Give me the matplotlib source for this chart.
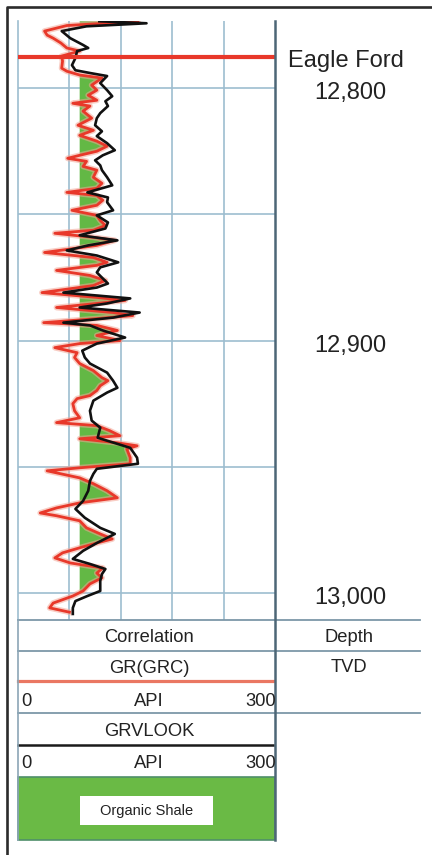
import numpy as np
import matplotlib
matplotlib.use("Agg")
import matplotlib.pyplot as plt
import matplotlib.transforms as mtransforms
from matplotlib.patches import Rectangle

plt.rcParams['font.family'] = ['Liberation Sans', 'DejaVu Sans']

# ---- log data -------------------------------------------------------------
gr_depth = [12773.5, 12775.2, 12777.4, 12779.0, 12780.2, 12782.1, 12784.1, 12785.3,
            12787.3, 12789.3, 12792.1, 12793.3, 12794.8, 12796.0, 12798.8, 12800.8,
            12802.8, 12804.8, 12806.0, 12807.1, 12809.1, 12811.9, 12814.7, 12816.7,
            12818.7, 12821.0, 12823.0, 12825.0, 12826.6, 12827.8, 12829.0, 12831.0,
            12832.5, 12835.3, 12837.7, 12839.7, 12841.3, 12842.5, 12844.4, 12846.4,
            12848.4, 12850.4, 12852.4, 12854.4, 12856.3, 12857.5, 12859.1, 12860.3,
            12862.3, 12865.1, 12867.1, 12869.0, 12870.2, 12872.2, 12874.2, 12876.2,
            12878.2, 12881.0, 12882.9, 12884.1, 12885.3, 12886.9, 12888.9, 12890.1,
            12891.3, 12892.9, 12894.0, 12896.0, 12898.0, 12900.0, 12901.2, 12902.8,
            12904.8, 12906.7, 12909.1, 12911.9, 12914.7, 12915.9, 12917.9, 12919.8,
            12921.8, 12923.0, 12925.0, 12927.8, 12930.6, 12932.5, 12933.7, 12935.7,
            12937.7, 12938.9, 12940.5, 12941.7, 12942.9, 12946.4, 12948.8, 12950.4,
            12951.6, 12954.4, 12956.7, 12959.5, 12962.3, 12964.3, 12966.3, 12968.3,
            12969.4, 12971.4, 12974.2, 12976.6, 12978.6, 12980.2, 12982.1, 12984.1,
            12986.1, 12988.1, 12990.1, 12992.1, 12994.0, 12996.4, 12999.2, 13001.2,
            13004.0, 13005.9, 13007.6]
gr_api = [140, 57, 31, 34, 41, 50, 57, 72,
          51, 52, 51, 57, 72, 98, 86, 92,
          82, 92, 64, 84, 76, 86, 70, 88,
          72, 92, 104, 92, 72, 58, 80, 76,
          92, 88, 98, 92, 57, 92, 99, 92,
          63, 92, 96, 102, 88, 43, 88, 113,
          92, 31, 88, 104, 92, 45, 84, 102,
          88, 28, 92, 125, 92, 45, 111, 134,
          92, 30, 92, 116, 92, 119, 72, 43,
          69, 66, 72, 88, 98, 105, 96, 92,
          84, 69, 64, 66, 72, 45, 92, 107,
          119, 72, 116, 139, 127, 131, 131, 72,
          34, 72, 88, 104, 116, 72, 45, 26,
          45, 72, 80, 96, 110, 92, 72, 52,
          43, 61, 99, 92, 98, 84, 76, 64,
          41, 37, 60]

look_depth = [12773.5, 12774.3, 12775.5, 12777.4, 12780.2, 12782.9, 12784.1, 12785.3,
              12788.1, 12790.9, 12792.9, 12794.0, 12795.2, 12798.0, 12800.8, 12803.2,
              12805.2, 12807.1, 12809.9, 12811.9, 12814.7, 12817.1, 12819.0, 12821.8,
              12824.6, 12826.6, 12828.6, 12830.6, 12832.5, 12835.3, 12838.5, 12841.3,
              12843.3, 12845.2, 12848.4, 12850.4, 12853.2, 12855.6, 12858.3, 12860.3,
              12862.3, 12864.3, 12866.3, 12869.0, 12871.0, 12873.0, 12875.4, 12877.4,
              12879.0, 12881.0, 12883.3, 12885.3, 12886.9, 12888.9, 12890.9, 12892.9,
              12894.0, 12896.0, 12898.8, 12901.2, 12904.0, 12906.7, 12909.1, 12912.7,
              12915.9, 12918.7, 12920.6, 12923.8, 12927.8, 12931.7, 12934.5, 12938.5,
              12942.5, 12946.4, 12948.8, 12950.8, 12952.8, 12955.6, 12959.5, 12963.5,
              12966.7, 12970.2, 12974.2, 12976.6, 12980.2, 12983.3, 12986.5, 12988.5,
              12990.5, 12992.5, 12995.2, 12999.2, 13001.2, 13003.2, 13005.9, 13008.3]
look_api = [95, 150, 80, 51, 61, 76, 82, 69,
            67, 63, 67, 84, 104, 96, 104, 110,
            102, 105, 96, 92, 90, 98, 92, 104,
            113, 99, 90, 96, 98, 104, 110, 81,
            105, 104, 111, 92, 105, 102, 72, 116,
            82, 57, 92, 117, 96, 92, 99, 105,
            92, 53, 131, 104, 72, 142, 111, 53,
            84, 99, 125, 92, 75, 78, 84, 104,
            111, 116, 104, 88, 84, 86, 96, 93,
            131, 139, 140, 92, 88, 84, 82, 76,
            67, 78, 96, 113, 92, 76, 64, 84,
            102, 98, 96, 96, 81, 67, 64, 64]

shale_cutoff = 72            # API
eagle_ford_top = 12787.7     # ft
depth_ticks = [12800, 12850, 12900, 12950, 13000]
depth_labels = {12800: "12,800", 12900: "12,900", 13000: "13,000"}
api_grid = [60, 120, 180, 240]
api_range = (0, 300)
depth_range = (12773.4, 13010.7)

# ---- colours ----------------------------------------------------------------
RED = '#e8382a'
GREEN = '#63b845'
GRID = '#9dbdcf'
BORDER = '#4d6676'
TEXT = '#222222'

W, H = 432, 855
fig = plt.figure(figsize=(W / 100, H / 100), dpi=100)
fig.patch.set_facecolor('white')

def frac(x0, y0, x1, y1):
    return [x0 / W, 1 - y1 / H, (x1 - x0) / W, (y1 - y0) / H]

# ---- log track --------------------------------------------------------------
ax = fig.add_axes(frac(18, 21, 275, 620))
ax.set_xlim(*api_range)
ax.set_ylim(depth_range[1], depth_range[0])
for s in ('top', 'bottom'):
    ax.spines[s].set_visible(False)
ax.spines['left'].set_color(GRID)
ax.spines['left'].set_linewidth(1.2)
ax.spines['right'].set_visible(False)
ax.set_xticks([])
ax.set_yticks([])

for a in api_grid:
    ax.axvline(a, color=GRID, lw=1.2, zorder=1)
for d in depth_ticks:
    ax.axhline(d, color=GRID, lw=1.2, zorder=1)

gd = np.array(gr_depth)
ga = np.array(gr_api)
ax.fill_betweenx(gd, shale_cutoff, ga, where=ga > shale_cutoff,
                 interpolate=True, color=GREEN, lw=0, zorder=2)
ax.plot(ga, gd, color='#f3a595', lw=4.2, alpha=0.55, zorder=3,
        solid_joinstyle='round')
ax.plot(ga, gd, color=RED, lw=2.0, zorder=4, solid_joinstyle='round')
ax.plot(look_api, look_depth, color='#111111', lw=1.9, zorder=5,
        solid_joinstyle='round')
ax.axhline(eagle_ford_top, color=RED, lw=3.0, zorder=6)

# ---- overlay in pixel coordinates -----------------------------------------
ov = fig.add_axes([0, 0, 1, 1])
ov.set_xlim(0, W)
ov.set_ylim(H, 0)
ov.axis('off')
ov.patch.set_alpha(0)

# outer frame
ov.plot([7, 7, W], [H, 7, 7], color='#2b2b2b', lw=1.9, solid_capstyle='butt')

# depth labels
blend = mtransforms.blended_transform_factory(ov.transData, ax.transData)
label_tf = mtransforms.offset_copy(blend, fig=fig, y=-5, units='dots')
for d, lab in depth_labels.items():
    ov.text(350, d, lab, transform=label_tf, ha='center', va='center',
            fontsize=17, color=TEXT)
ov.text(346, 67, "Eagle Ford", ha='center', va='baseline', fontsize=17, color=TEXT)

# header grid
for y in (620, 651, 713):
    ov.plot([18, 420], [y, y], color='#7d97a8', lw=1.3)
ov.plot([18, 273], [681, 681], color='#ea7762', lw=2.3)
ov.plot([18, 273], [745, 745], color='#1a1a1a', lw=1.8)
ov.plot([18, 18], [620, 840], color='#8ca6b6', lw=1.2)

# organic shale legend
ov.add_patch(Rectangle((18, 777), 257, 63, facecolor='#6aba45',
                       edgecolor='#4f8f6a', lw=1.2))
ov.add_patch(Rectangle((80, 796), 133, 29, facecolor='white', edgecolor='none'))
ov.text(146.5, 811, "Organic Shale", ha='center', va='center',
        fontsize=10.5, color=TEXT)

# track right border
ov.plot([275, 275], [21, 840], color=BORDER, lw=1.8)

fs = 13.2
ov.text(149, 642, "Correlation", ha='center', va='baseline', fontsize=fs, color=TEXT)
ov.text(349, 642, "Depth", ha='center', va='baseline', fontsize=fs, color=TEXT)
ov.text(149, 673, "GR(GRC)", ha='center', va='baseline', fontsize=fs, color=TEXT)
ov.text(349, 672, "TVD", ha='center', va='baseline', fontsize=fs, color=TEXT)
for yb in (706, 768):
    ov.text(21, yb, "0", ha='left', va='baseline', fontsize=fs, color=TEXT)
    ov.text(149, yb, "API", ha='center', va='baseline', fontsize=fs, color=TEXT)
    ov.text(275.5, yb, "300", ha='right', va='baseline', fontsize=fs, color=TEXT)
ov.text(149, 736, "GRVLOOK", ha='center', va='baseline', fontsize=fs, color=TEXT)

fig.savefig("out.png", dpi=100, facecolor='white')
